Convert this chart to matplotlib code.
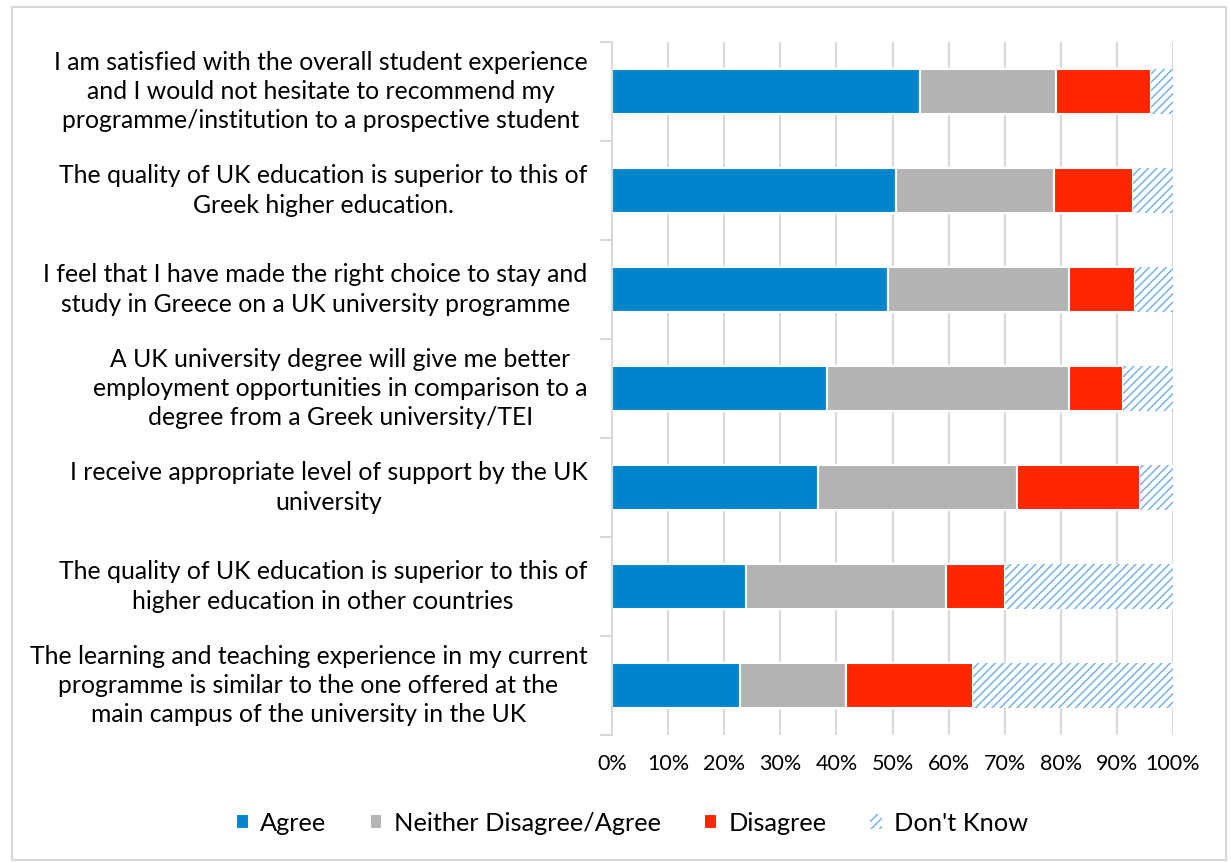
import numpy as np
import matplotlib.pyplot as plt
from matplotlib.patches import Rectangle

plt.rcParams['font.family'] = ['Lato', 'DejaVu Sans']
plt.rcParams['hatch.linewidth'] = 1.1

statements = [
    'I am satisfied with the overall student experience\nand I would not hesitate to recommend my\nprogramme/institution to a prospective student',
    'The quality of UK education is superior to this of\nGreek higher education.',
    'I feel that I have made the right choice to stay and\nstudy in Greece on a UK university programme',
    'A UK university degree will give me better\nemployment opportunities in comparison to a\ndegree from a Greek university/TEI',
    'I receive appropriate level of support by the UK\nuniversity',
    'The quality of UK education is superior to this of\nhigher education in other countries',
    'The learning and teaching experience in my current\nprogramme is similar to the one offered at the\nmain campus of the university in the UK',
]
agree = [54.9, 50.7, 49.2, 38.3, 36.8, 23.9, 22.8]
neither = [24.3, 28.1, 32.3, 43.2, 35.4, 35.7, 19.0]
disagree = [16.8, 14.0, 11.7, 9.6, 22.0, 10.4, 22.6]
dont_know = [4.0, 7.2, 6.8, 8.9, 5.8, 30.0, 35.6]

series = ['Agree', 'Neither Disagree/Agree', 'Disagree', "Don't Know"]
colors = ['#0084CC', '#B3B3B3', '#FF2600', 'white']

fig = plt.figure(figsize=(12.31, 8.63), dpi=100)
ax = fig.add_axes([612 / 1231, 1 - 735 / 863, (1173 - 612) / 1231, (735 - 42) / 863])

y = np.arange(len(statements))
left = np.zeros(len(statements))
handles = []
for name, vals, col in zip(series, [agree, neither, disagree, dont_know], colors):
    vals = np.array(vals)
    if name == "Don't Know":
        b = ax.barh(y, vals, left=left, height=0.45, color='white',
                    edgecolor='#78B2E6', hatch='////', linewidth=0, label=name)
    else:
        b = ax.barh(y, vals, left=left, height=0.45, color=col,
                    edgecolor='white', linewidth=1.5, label=name)
    handles.append(b)
    left += vals

ax.set_xlim(0, 100)
ax.set_ylim(len(statements) - 0.5, -0.5)
ax.set_xticks(np.arange(0, 101, 10))
ax.set_xticklabels([f'{v}%' for v in range(0, 101, 10)], fontsize=15.5, color='#000000')
ax.xaxis.grid(True, color='#D9D9D9', linewidth=1.5)
ax.set_axisbelow(True)
ax.tick_params(axis='x', length=0, pad=14)

ax.set_yticks(np.arange(-0.5, len(statements), 1))
ax.set_yticklabels([])
ax.tick_params(axis='y', length=9, color='#D9D9D9', width=1.5)

# category labels, centred lines, right edge near the axis
for i, s in enumerate(statements):
    ax.text(-4.4, i, s, ha='right', va='center', multialignment='center',
            fontsize=17.8, linespacing=1.33, transform=ax.transData)

for side in ['top', 'right', 'bottom']:
    ax.spines[side].set_visible(False)
ax.spines['left'].set_color('#D9D9D9')
ax.spines['left'].set_linewidth(1.5)

fig.legend(handles=handles, labels=series, loc='center', bbox_to_anchor=(632 / 1231, 1 - 823 / 863),
           ncol=4, frameon=False, fontsize=18.3, handlelength=0.5, handleheight=0.5,
           handletextpad=0.45, columnspacing=1.7)

fig.patches.append(Rectangle((12 / 1231, 3 / 863), 1214 / 1231, 853 / 863, transform=fig.transFigure,
                             fill=False, edgecolor='#D9D9D9', linewidth=1.5))

fig.savefig('out.png', dpi=100)
